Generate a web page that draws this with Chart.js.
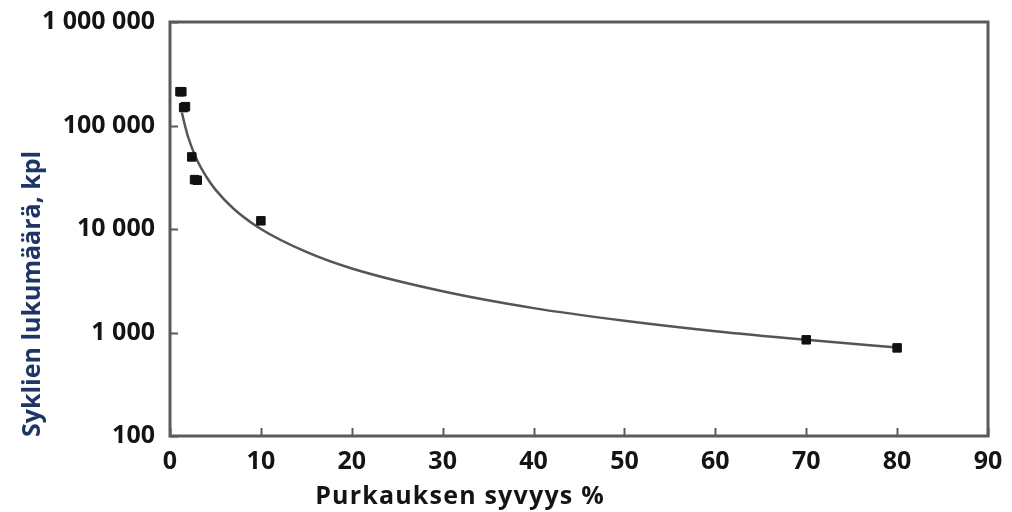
<!DOCTYPE html>
<html>
<head>
<meta charset="utf-8">
<script src="https://cdn.jsdelivr.net/npm/chart.js@4.4.1/dist/chart.umd.min.js"></script>
<style>
  html, body { margin: 0; padding: 0; background: #ffffff; }
  #wrap { width: 1012px; height: 512px; }
</style>
</head>
<body>
<div id="wrap"><canvas id="c" width="1012" height="512"></canvas></div>
<script>
// Measured points (depth of discharge %, cycles)
const measX = [1.1, 1.3, 1.5, 1.7, 2.4, 2.7, 3.0, 10, 70, 80];
const measY = [212000, 212000, 149000, 152000, 49700, 30000, 29600, 12000, 850, 710];

// Trend curve
const trendX = [1.3, 2, 3, 4, 5, 7, 10, 15, 20, 30, 40, 50, 60, 70, 80];
const trendY = [133000, 77000, 46000, 32000, 24000, 15700, 10000, 6000, 4150, 2500, 1720, 1300, 1030, 850, 715];

// Axis ticks
const yTicks = [100, 1000, 10000, 100000, 1000000];
const xTicks = [0, 10, 20, 30, 40, 50, 60, 70, 80, 90];

const xTitle = 'Purkauksen syvyys %';
const yTitle = 'Syklien lukumäärä, kpl';

const FONT = '"Open Sans", "DejaVu Sans", sans-serif';

function fmt(v) {
  return String(v).replace(/\B(?=(\d{3})+(?!\d))/g, ' ');
}

const framePlugin = {
  id: 'frame',
  afterDatasetsDraw(chart) {
    const ctx = chart.ctx;
    const a = chart.chartArea;
    const xs = chart.scales.x, ys = chart.scales.y;
    ctx.save();
    ctx.strokeStyle = '#5a5a5a';
    ctx.lineWidth = 2;
    // inner ticks
    xTicks.forEach(v => {
      const px = Math.round(xs.getPixelForValue(v)) + 0.5;
      ctx.beginPath(); ctx.moveTo(px, a.bottom); ctx.lineTo(px, a.bottom - 8); ctx.stroke();
    });
    yTicks.forEach(v => {
      const py = Math.round(ys.getPixelForValue(v)) + 0.5;
      ctx.beginPath(); ctx.moveTo(a.left, py); ctx.lineTo(a.left + 8, py); ctx.stroke();
    });
    // frame
    ctx.lineWidth = 3;
    ctx.strokeRect(a.left, a.top, a.right - a.left, a.bottom - a.top);
    ctx.restore();
  },
  afterDraw(chart) {
    const ctx = chart.ctx;
    const a = chart.chartArea;
    ctx.save();
    // x title
    ctx.font = 'bold 25px ' + FONT;
    ctx.fillStyle = '#141414';
    ctx.textAlign = 'center';
    ctx.textBaseline = 'alphabetic';
    try { ctx.letterSpacing = '1.2px'; } catch (e) {}
    ctx.fillText(xTitle, 460, 504);
    // y title
    try { ctx.letterSpacing = '0px'; } catch (e) {}
    ctx.translate(40, a.bottom + 1);
    ctx.rotate(-Math.PI / 2);
    ctx.fillStyle = '#1f3566';
    ctx.textAlign = 'left';
    ctx.textBaseline = 'alphabetic';
    ctx.fillText(yTitle, 0, 0);
    ctx.restore();
  }
};

new Chart(document.getElementById('c'), {
  type: 'scatter',
  data: {
    datasets: [
      {
        label: 'Mitattu',
        data: measX.map((x, i) => ({ x: x, y: measY[i] })),
        pointStyle: 'rect',
        pointRadius: 6,
        pointBorderWidth: 1,
        backgroundColor: '#111111',
        borderColor: '#111111',
        showLine: false,
        order: 1
      },
      {
        label: 'Trendi',
        data: trendX.map((x, i) => ({ x: x, y: trendY[i] })),
        showLine: true,
        borderColor: '#555555',
        borderWidth: 2.5,
        pointRadius: 0,
        cubicInterpolationMode: 'monotone',
        fill: false,
        order: 2
      }
    ]
  },
  options: {
    responsive: false,
    animation: false,
    devicePixelRatio: 1,
    layout: { padding: { left: 0, right: 24, top: 22, bottom: 0 } },
    plugins: { legend: { display: false }, tooltip: { enabled: false } },
    scales: {
      x: {
        type: 'linear',
        min: 0, max: 90,
        afterBuildTicks(s) { s.ticks = xTicks.map(v => ({ value: v })); },
        afterFit(s) { s.height = 76; s.paddingLeft = 0; s.paddingRight = 0; },
        grid: { display: false, drawTicks: false },
        border: { display: false },
        ticks: {
          padding: 11,
          color: '#141414',
          font: { family: FONT, size: 25, weight: 'bold' },
          maxRotation: 0,
          callback: v => String(v)
        }
      },
      y: {
        type: 'logarithmic',
        min: 100, max: 1000000,
        afterBuildTicks(s) { s.ticks = yTicks.map(v => ({ value: v })); },
        afterFit(s) { s.width = 170; s.paddingTop = 0; s.paddingBottom = 0; },
        grid: { display: false, drawTicks: false },
        border: { display: false },
        ticks: {
          padding: 15,
          color: '#141414',
          font: { family: FONT, size: 25, weight: 'bold' },
          callback: v => fmt(v)
        }
      }
    }
  },
  plugins: [framePlugin]
});
</script>
</body>
</html>
